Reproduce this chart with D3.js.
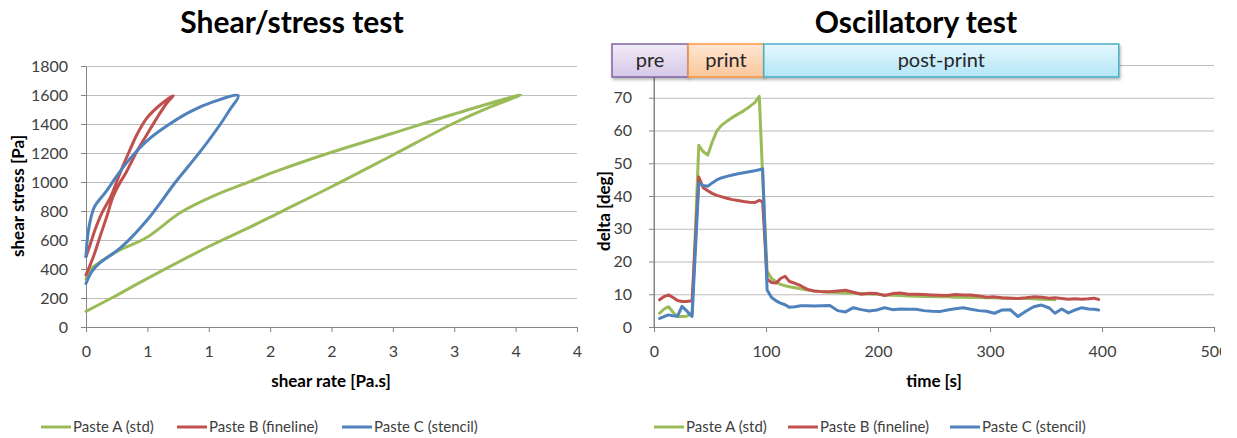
<!DOCTYPE html>
<html>
<head>
<meta charset="utf-8">
<script src="https://cdn.jsdelivr.net/npm/d3@7"></script>
<style>
body{margin:0;background:#fff;}
svg text{font-family:Lato,"Open Sans",sans-serif;}
</style>
</head>
<body>
<svg id="chart" width="1237" height="438"></svg>
<script>
// ---- shear / stress loops (path order: up curve, then down curve)
var seriesNames = ["Paste A (std)", "Paste B (fineline)", "Paste C (stencil)"];
var seriesColors = ["#9bbb59", "#c0504d", "#4f81bd"];

var rateA = [0, 0.22, 0.49, 1.0, 1.34, 1.58, 2.0, 2.5, 3.0, 3.3, 3.54, 3.0, 2.5, 2.0, 1.58, 1.34, 1.04, 0.77, 0.49, 0.25, 0.11, 0.04, 0];
var stressA = [108, 205, 330, 555, 690, 791, 967, 1186, 1407, 1520, 1600, 1469, 1336, 1205, 1083, 1005, 905, 790, 615, 520, 445, 400, 330];
var rateB = [0, 0.06, 0.114, 0.169, 0.22, 0.27, 0.33, 0.413, 0.494, 0.576, 0.657, 0.711, 0.603, 0.494, 0.413, 0.358, 0.304, 0.25, 0.2, 0.128, 0.073, 0.033, 0];
var stressB = [359, 485, 623, 761, 899, 985, 1071, 1209, 1324, 1439, 1543, 1595, 1531, 1439, 1324, 1221, 1117, 1002, 895, 784, 669, 566, 485];
var rateC = [0, 0.05, 0.11, 0.28, 0.5, 0.73, 0.93, 1.09, 1.17, 1.24, 1.04, 0.85, 0.63, 0.49, 0.36, 0.25, 0.16, 0.07, 0.03, 0.01, 0];
var stressC = [300, 385, 440, 545, 740, 1000, 1209, 1393, 1497, 1595, 1554, 1485, 1370, 1278, 1163, 1040, 930, 830, 715, 600, 485];

var rateTicks = [0, 0.5, 1, 1.5, 2, 2.5, 3, 3.5, 4];
var rateTickLabels = ["0", "1", "1", "2", "2", "3", "3", "4", "4"];
var stressTicks = [0, 200, 400, 600, 800, 1000, 1200, 1400, 1600, 1800];

// ---- oscillatory test
var time = [5, 9, 13, 17, 21, 25, 29, 34, 40, 44, 48, 52, 56, 60, 65, 70, 75, 80, 85, 90, 94, 97, 101, 105, 109, 113, 117, 121, 126, 131, 137, 143, 150, 157, 164, 171, 178, 185, 192, 199, 206, 213, 220, 227, 234, 241, 248, 255, 262, 269, 276, 283, 290, 297, 304, 311, 318, 325, 332, 339, 346, 353, 358, 364, 370, 376, 382, 388, 393, 397];
var deltaA = [4.2, 5.5, 6.2, 4.5, 3.2, 3.2, 3.3, 4.0, 55.5, 53.5, 52.5, 56.5, 59.8, 61.5, 62.8, 64, 65, 66, 67.2, 68.5, 70.4, 46, 17, 14.8, 13.8, 13, 12.6, 12.3, 12, 11.7, 11.3, 11, 10.8, 10.6, 10.5, 10.4, 10.3, 10.2, 10.1, 10, 9.8, 9.7, 9.6, 9.5, 9.4, 9.3, 9.3, 9.2, 9.2, 9.1, 9.1, 9.0, 9.0, 8.9, 8.9, 8.8, 8.8, 8.7, 8.7, 8.6, 8.5, 8.4, 8.3, null, null, null, null, null, null, null];
var deltaB = [8.3, 9.3, 9.8, 9.0, 8.1, 7.8, 7.8, 8.0, 45.8, 42.5, 41.6, 40.8, 40.2, 39.8, 39.3, 38.9, 38.6, 38.3, 38.1, 38.0, 38.7, 38.2, 14.6, 13.6, 13.4, 14.8, 15.5, 13.9, 13.3, 12.6, 11.5, 11.0, 10.8, 10.8, 11.0, 11.2, 10.6, 10.0, 10.3, 10.2, 9.6, 10.2, 10.4, 10.0, 10.0, 9.9, 9.8, 9.7, 9.6, 9.9, 9.8, 9.8, 9.5, 9.1, 9.2, 8.9, 8.8, 8.7, 8.9, 9.2, 9.1, 8.8, 8.9, 8.7, 8.5, 8.6, 8.5, 8.6, 8.8, 8.4];
var deltaC = [2.6, 3.2, 3.7, 3.4, 3.3, 6.3, 5.0, 3.2, 44.0, 43.2, 43.0, 44.0, 44.9, 45.5, 46.0, 46.4, 46.8, 47.1, 47.4, 47.7, 48.0, 48.3, 11.3, 9.0, 8.0, 7.3, 6.8, 6.0, 6.2, 6.5, 6.5, 6.4, 6.5, 6.6, 5.0, 4.6, 5.9, 5.3, 4.9, 5.2, 5.9, 5.3, 5.5, 5.4, 5.4, 5.0, 4.8, 4.7, 5.2, 5.6, 5.9, 5.4, 5.0, 4.8, 4.2, 5.2, 5.3, 3.2, 4.8, 6.2, 6.7, 5.8, 4.2, 5.5, 4.3, 5.2, 5.9, 5.5, 5.4, 5.2];

var timeTicks = [0, 100, 200, 300, 400, 500];
var deltaTicks = [0, 10, 20, 30, 40, 50, 60, 70];
var deltaGrid = [0, 10, 20, 30, 40, 50, 60, 70, 80];

var phaseNames = ["pre", "print", "post-print"];
var phaseBounds = [-37.5, 30.5, 98, 415];
var phaseFill = [["#f1ebf8", "#d6c8e8"], ["#fee6d2", "#fbc79c"], ["#e6f8fe", "#b3e5f6"]];
var phaseStroke = ["#8064a2", "#f79646", "#4bacc6"];

var svg = d3.select('#chart');
svg.append('rect').attr('width', 1237).attr('height', 438).attr('fill', '#fff');

var defs = svg.append('defs');
phaseFill.forEach(function(c, i){
	var g = defs.append('linearGradient').attr('id', 'pg' + i)
		.attr('x1', 0).attr('y1', 0).attr('x2', 0).attr('y2', 1);
	g.append('stop').attr('offset', '0%').attr('stop-color', c[0]);
	g.append('stop').attr('offset', '100%').attr('stop-color', c[1]);
});
defs.append('filter').attr('id', 'shadow').attr('x', '-5%').attr('y', '-20%').attr('width', '110%').attr('height', '150%')
	.append('feDropShadow').attr('dx', 1).attr('dy', 2).attr('stdDeviation', 1.5).attr('flood-color', '#000').attr('flood-opacity', 0.3);
defs.append('clipPath').attr('id', 'edge').append('rect').attr('x', 0).attr('y', 0).attr('width', 1221).attr('height', 438);

var gridColor = '#bcbcbc', axisColor = '#868686', tickText = '#404040';
var plain = d3.format('d');

function styleAxis(g){
	g.select('.domain').attr('stroke', axisColor);
	g.selectAll('.tick line').attr('stroke', axisColor);
	g.selectAll('.tick text').attr('fill', tickText).style('font-size', '16px');
}

// ===== left chart
var x1 = d3.scaleLinear().domain([0, 4]).range([86, 577]);
var y1 = d3.scaleLinear().domain([0, 1800]).range([327, 66]);

svg.append('g').selectAll('line').data(stressTicks.slice(1)).enter().append('line')
	.attr('x1', x1(0)).attr('x2', x1(4))
	.attr('y1', function(d){ return y1(d) + 0.5 }).attr('y2', function(d){ return y1(d) + 0.5 })
	.attr('stroke', gridColor);

var xa1 = svg.append('g').attr('transform', 'translate(0,' + y1(0) + ')')
	.call(d3.axisBottom(x1).tickValues(rateTicks).tickFormat(function(d, i){ return rateTickLabels[i] }).tickSize(5).tickSizeOuter(0).tickPadding(14));
styleAxis(xa1);
var ya1 = svg.append('g').attr('transform', 'translate(' + x1(0) + ',0)')
	.call(d3.axisLeft(y1).tickValues(stressTicks).tickFormat(plain).tickSize(5).tickSizeOuter(0).tickPadding(13));
styleAxis(ya1);

var loops = [[rateA, stressA], [rateB, stressB], [rateC, stressC]];
var loopLine = d3.line()
	.x(function(d){ return x1(d[0]) })
	.y(function(d){ return y1(d[1]) })
	.curve(d3.curveCatmullRom.alpha(0.5));
loops.forEach(function(s, i){
	var pts = s[0].map(function(r, j){ return [r, s[1][j]] });
	svg.append('path').datum(pts).attr('d', loopLine)
		.attr('fill', 'none').attr('stroke', seriesColors[i]).attr('stroke-width', 3)
		.attr('stroke-linejoin', 'round').attr('stroke-linecap', 'round');
});

svg.append('text').attr('x', 292).attr('y', 33).attr('text-anchor', 'middle')
	.style('font-size', '30px').style('font-weight', 'bold').text('Shear/stress test');
svg.append('text').attr('transform', 'translate(24,196) rotate(-90)').attr('text-anchor', 'middle')
	.style('font-size', '17px').style('font-weight', 'bold').text('shear stress [Pa]');
svg.append('text').attr('x', 331).attr('y', 387).attr('text-anchor', 'middle')
	.style('font-size', '17px').style('font-weight', 'bold').text('shear rate [Pa.s]');

// ===== right chart
var x2 = d3.scaleLinear().domain([0, 500]).range([654, 1214]);
var y2 = d3.scaleLinear().domain([0, 80]).range([327, 65]);

svg.append('g').selectAll('line').data(deltaGrid.slice(1)).enter().append('line')
	.attr('x1', x2(0)).attr('x2', x2(500))
	.attr('y1', function(d){ return y2(d) + 0.5 }).attr('y2', function(d){ return y2(d) + 0.5 })
	.attr('stroke', gridColor);

var xa2 = svg.append('g').attr('clip-path', 'url(#edge)').append('g').attr('transform', 'translate(0,' + y2(0) + ')')
	.call(d3.axisBottom(x2).tickValues(timeTicks).tickFormat(plain).tickSize(5).tickSizeOuter(0).tickPadding(14));
styleAxis(xa2);
var ya2 = svg.append('g').attr('transform', 'translate(' + x2(0) + ',0)')
	.call(d3.axisLeft(y2).tickValues(deltaTicks).tickFormat(plain).tickSize(5).tickSizeOuter(0).tickPadding(17));
styleAxis(ya2);
svg.append('line').attr('x1', x2(0)).attr('x2', x2(0)).attr('y1', y2(80)).attr('y2', y2(0)).attr('stroke', axisColor);

var deltas = [deltaA, deltaB, deltaC];
var tsLine = d3.line()
	.defined(function(d){ return d[1] !== null })
	.x(function(d){ return x2(d[0]) })
	.y(function(d){ return y2(d[1]) });
deltas.forEach(function(vals, i){
	var pts = time.map(function(t, j){ return [t, vals[j]] });
	svg.append('path').datum(pts).attr('d', tsLine)
		.attr('fill', 'none').attr('stroke', seriesColors[i]).attr('stroke-width', 3)
		.attr('stroke-linejoin', 'round').attr('stroke-linecap', 'round');
});

// phase bar
var phases = svg.append('g');
phaseNames.forEach(function(p, i){
	var xa = x2(phaseBounds[i]), xb = x2(phaseBounds[i + 1]);
	phases.append('rect').attr('x', xa).attr('y', 44).attr('width', xb - xa).attr('height', 33)
		.attr('fill', 'url(#pg' + i + ')').attr('stroke', phaseStroke[i]).attr('stroke-width', 1.5)
		.attr('filter', 'url(#shadow)');
	phases.append('text').attr('x', (xa + xb) / 2).attr('y', 67).attr('text-anchor', 'middle')
		.style('font-size', '20px').attr('fill', '#262626').text(p);
});

svg.append('text').attr('x', 916).attr('y', 33).attr('text-anchor', 'middle')
	.style('font-size', '30px').style('font-weight', 'bold').text('Oscillatory test');
svg.append('text').attr('transform', 'translate(610,211) rotate(-90)').attr('text-anchor', 'middle')
	.style('font-size', '17px').style('font-weight', 'bold').text('delta [deg]');
svg.append('text').attr('x', 934).attr('y', 387).attr('text-anchor', 'middle')
	.style('font-size', '17px').style('font-weight', 'bold').text('time [s]');

// ===== legends
function legend(xs){
	var g = svg.append('g');
	seriesNames.forEach(function(n, i){
		g.append('line').attr('x1', xs[i]).attr('x2', xs[i] + 30).attr('y1', 427).attr('y2', 427)
			.attr('stroke', seriesColors[i]).attr('stroke-width', 3);
		g.append('text').attr('x', xs[i] + 32).attr('y', 432).style('font-size', '15px')
			.attr('fill', '#404040').text(n);
	});
}
legend([41, 177, 342]);
legend([654, 788, 950]);
</script>
</body>
</html>
